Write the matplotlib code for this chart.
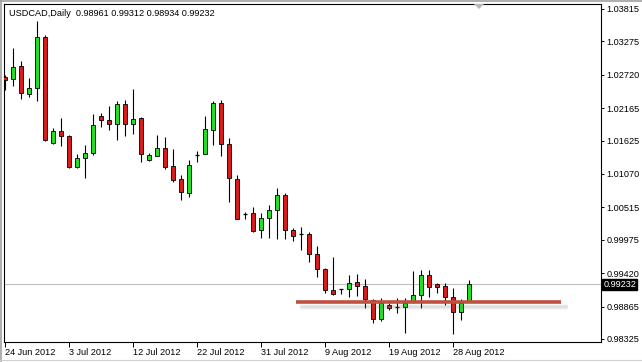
import matplotlib
matplotlib.use('Agg')
import matplotlib.pyplot as plt
from matplotlib.patches import Rectangle, Polygon
from matplotlib.lines import Line2D
import matplotlib.transforms as mtransforms

# ---------------- data ----------------
title_text = "USDCAD,Daily  0.98961 0.99312 0.98934 0.99232"

opens = [1.02684, 1.02650, 1.02867, 1.02401, 1.02501, 1.03349, 1.01586, 1.01785, 1.01702, 1.01187,
         1.01336, 1.01419, 1.02035, 1.01968, 1.01902, 1.02235, 1.01902, 1.02002, 1.01303, 1.01370,
         1.01503, 1.01203, 1.00987, 1.00754, 1.01394, 1.01403, 1.01802, 1.02251, 1.01569, 1.00987,
         1.00405, 1.00421, 1.00138, 1.00338, 1.00471, 1.00721, 1.00138, 1.00072, 1.00072, 0.99739,
         0.99490, 0.99140, 0.99157, 0.99157, 0.99273, 0.99207, 0.98974, 0.98658, 0.98891, 0.98858,
         0.98858, 0.98941, 0.99057, 0.99390, 0.99240, 0.99207, 0.99024, 0.98774, 0.98961]
highs = [1.02717, 1.03166, 1.02950, 1.02667, 1.03615, 1.03382, 1.01835, 1.02002, 1.01719, 1.01403,
         1.01553, 1.02068, 1.02085, 1.02201, 1.02285, 1.02301, 1.02484, 1.02018, 1.01419, 1.01719,
         1.01686, 1.01486, 1.01053, 1.01303, 1.01453, 1.02035, 1.02285, 1.02301, 1.01669, 1.01053,
         1.00438, 1.00521, 1.00421, 1.00554, 1.00837, 1.00754, 1.00172, 1.00188, 1.00105, 0.99872,
         0.99506, 0.99689, 0.99165, 0.99390, 0.99406, 0.99323, 0.98991, 0.99007, 0.98924, 0.99007,
         0.99007, 0.99456, 0.99473, 0.99473, 0.99250, 0.99257, 0.99174, 0.98991, 0.99312]
lows = [1.02467, 1.02534, 1.02318, 1.02351, 1.02285, 1.01619, 1.01569, 1.01536, 1.01170, 1.01170,
        1.01004, 1.01386, 1.01852, 1.01802, 1.01636, 1.01702, 1.01736, 1.01270, 1.01286, 1.01365,
        1.01153, 1.00937, 1.00638, 1.00687, 1.01270, 1.01400, 1.01553, 1.01370, 1.00604, 1.00318,
        1.00321, 1.00105, 1.00005, 1.00005, 0.99989, 0.99989, 0.99955, 0.99806, 0.99606, 0.99357,
        0.99090, 0.99057, 0.99074, 0.99024, 0.99040, 0.98841, 0.98591, 0.98625, 0.98808, 0.98758,
        0.98425, 0.98924, 0.98841, 0.99024, 0.99090, 0.98891, 0.98408, 0.98641, 0.98934]
closes = [1.02634, 1.02850, 1.02418, 1.02501, 1.03349, 1.01636, 1.01785, 1.01702, 1.01187, 1.01336,
          1.01419, 1.01885, 1.01968, 1.01902, 1.02235, 1.01902, 1.01985, 1.01403, 1.01386, 1.01503,
          1.01187, 1.00970, 1.00771, 1.01220, 1.01394, 1.01819, 1.02251, 1.01569, 1.01004, 1.00321,
          1.00405, 1.00122, 1.00338, 1.00471, 1.00721, 1.00138, 1.00039, 1.00072, 0.99739, 0.99490,
          0.99140, 0.99074, 0.99157, 0.99257, 0.99207, 0.98991, 0.98658, 0.98924, 0.98841, 0.98858,
          0.98924, 0.99057, 0.99390, 0.99190, 0.99190, 0.99024, 0.98774, 0.98924, 0.99232]

date_labels = ["24 Jun 2012", "3 Jul 2012", "12 Jul 2012", "22 Jul 2012",
               "31 Jul 2012", "9 Aug 2012", "19 Aug 2012", "28 Aug 2012"]
date_label_idx = [0, 8, 16, 24, 32, 40, 48, 56]

price_ticks = [1.03815, 1.03275, 1.02720, 1.02165, 1.01625, 1.01070,
               1.00515, 0.99975, 0.99420, 0.98865, 0.98325]

last_price = 0.99232
support_level = 0.98945
support_from_bar = 36.4
support_to_bar = 69.5

# ---------------- figure ----------------
W, H = 642, 362
fig = plt.figure(figsize=(W / 100, H / 100), dpi=100)
fig.patch.set_facecolor('white')
FONT = 'Liberation Sans'
FS = 6.6

ax = fig.add_axes([4 / W, 20 / H, 597 / W, 338 / H])
ax.set_facecolor('white')
ax.set_xlim(-0.125, 74.5)
ax.set_ylim(0.98275, 1.03898)

for s in ax.spines.values():
    s.set_color('black')
    s.set_linewidth(0.8)

GREEN = '#22e022'
RED = '#d81c1c'
BW = 0.6

# current price line
ax.axhline(last_price, color='#c0c0c0', lw=0.8, zorder=1)

for i, (o, h, l, c) in enumerate(zip(opens, highs, lows, closes)):
    ax.vlines(i, l, h, color='black', lw=0.8, zorder=2)
    if abs(c - o) < 1e-6:
        ax.hlines(o, i - BW / 2, i + BW / 2, color='black', lw=0.9, zorder=3)
    else:
        col = GREEN if c > o else RED
        ax.add_patch(Rectangle((i - BW / 2, min(o, c)), BW, abs(c - o),
                               facecolor=col, edgecolor='black', lw=0.6, zorder=3))

# support line with soft shadow
px = (1.03898 - 0.98275) / 338.0
for k, a in [(2.5, 0.05), (3.0, 0.10), (3.5, 0.14), (4.0, 0.17), (4.5, 0.18), (5.0, 0.17),
             (5.5, 0.14), (6.0, 0.11), (6.5, 0.08), (7.0, 0.05), (7.5, 0.03)]:
    ax.plot([support_from_bar + 0.5, support_to_bar + 0.8],
            [support_level - k * px] * 2, color='#707070', lw=0.5, alpha=a,
            solid_capstyle='round', zorder=4)
ax.plot([support_from_bar, support_to_bar], [support_level] * 2,
        color='#c05040', lw=2.6, solid_capstyle='butt', zorder=5)

# axes ticks
ax.yaxis.tick_right()
ax.set_yticks(price_ticks)
ax.set_yticklabels([f"{p:.5f}" for p in price_ticks], fontfamily=FONT, fontsize=FS)
ax.tick_params(axis='y', direction='out', length=2.5, width=0.7, pad=1.5, colors='black')
ax.set_xticks(date_label_idx)
ax.set_xticklabels(date_labels, fontfamily=FONT, fontsize=FS, ha='left')
ax.tick_params(axis='x', direction='out', length=3.5, width=0.7, pad=0.5, colors='black')

# last price box
trans = mtransforms.blended_transform_factory(ax.transAxes, ax.transData)
ax.text(1.004, last_price, f"{last_price:.5f}", transform=trans, ha='left', va='center',
        fontfamily=FONT, fontsize=FS, color='white', clip_on=False,
        bbox=dict(boxstyle='square,pad=0.12', fc='black', ec='black'))

# title
fig.text(9 / W, 1 - 13 / H, title_text, fontfamily=FONT, fontsize=FS,
         ha='left', va='center', color='black')

# shift marker triangle at top
fig.patches.append(Polygon([[474 / W, 1 - 4 / H], [484 / W, 1 - 4 / H], [479 / W, 1 - 9 / H]],
                           closed=True, transform=fig.transFigure, facecolor='#b8b8b8',
                           edgecolor='none'))

# window border
fig.add_artist(Line2D([0.5 / W, 0.5 / W], [0, 1], color='#a0a0a0', lw=1.2))
fig.add_artist(Line2D([0, 1], [1 - 0.5 / H, 1 - 0.5 / H], color='#a0a0a0', lw=1.2))
fig.add_artist(Line2D([0, 1], [1 - 360 / H, 1 - 360 / H], color='#d0d0d0', lw=0.8))

fig.savefig('out.png', dpi=100, facecolor='white')
